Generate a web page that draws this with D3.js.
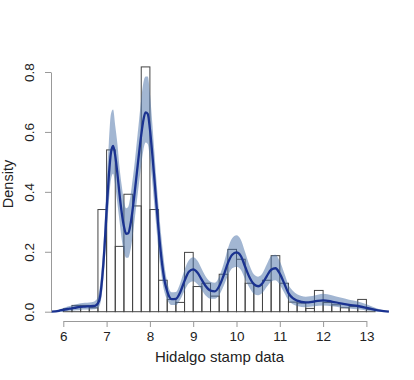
<!DOCTYPE html>
<html>
<head>
<meta charset="utf-8">
<script src="https://cdn.jsdelivr.net/npm/d3@7"></script>
<style>
  body { margin: 0; background: #fff; }
  text { font-family: "Liberation Sans", Arial, sans-serif; fill: #222; }
</style>
</head>
<body>
<svg width="414" height="380"></svg>
<script>
// histogram: left bin edges (width 0.2) and densities
var binStart = [6.0, 6.2, 6.4, 6.6, 6.8, 7.0, 7.2, 7.4, 7.6, 7.8, 8.0, 8.2, 8.4, 8.6, 8.8, 9.0,
  9.2, 9.4, 9.6, 9.8, 10.0, 10.2, 10.4, 10.6, 10.8, 11.0, 11.2, 11.4, 11.6, 11.8, 12.0,
  12.2, 12.4, 12.6, 12.8, 13.0];
var binDensity = [0.010, 0.021, 0.021, 0.013, 0.341, 0.540, 0.218, 0.392, 0.353, 0.817, 0.341,
  0.105, 0.041, 0.031, 0.198, 0.084, 0.095, 0.052, 0.125, 0.208, 0.175, 0.095, 0.087, 0.105,
  0.187, 0.095, 0.032, 0.029, 0.011, 0.071, 0.031, 0.023, 0.013, 0.017, 0.041, 0.008];

// density estimate and its band
var gridX = [5.72, 5.9, 6.0, 6.1, 6.2, 6.3, 6.4, 6.5, 6.6, 6.7, 6.75, 6.8, 6.85, 6.9, 6.95,
  7.0, 7.05, 7.1, 7.15, 7.2, 7.25, 7.3, 7.35, 7.4, 7.45, 7.5, 7.55, 7.6, 7.65, 7.7, 7.75,
  7.8, 7.85, 7.9, 7.95, 8.0, 8.05, 8.1, 8.15, 8.2, 8.25, 8.3, 8.35, 8.4, 8.5, 8.6, 8.7,
  8.8, 8.9, 9.0, 9.1, 9.2, 9.3, 9.4, 9.5, 9.6, 9.7, 9.8, 9.9, 10.0, 10.1, 10.2, 10.3,
  10.4, 10.5, 10.6, 10.7, 10.8, 10.9, 11.0, 11.1, 11.2, 11.3, 11.4, 11.6, 11.8, 12.0,
  12.2, 12.4, 12.6, 12.8, 13.0, 13.2, 13.4, 13.52];
var densMid = [0, 0.003, 0.006, 0.009, 0.011, 0.014, 0.016, 0.017, 0.018, 0.019, 0.021, 0.028,
  0.05, 0.115, 0.21, 0.34, 0.45, 0.53, 0.553, 0.52, 0.46, 0.39, 0.33, 0.285, 0.26, 0.262,
  0.29, 0.34, 0.40, 0.465, 0.53, 0.59, 0.64, 0.665, 0.66, 0.61, 0.535, 0.45, 0.36, 0.275,
  0.20, 0.14, 0.095, 0.068, 0.042, 0.043, 0.065, 0.103, 0.133, 0.141, 0.13, 0.106, 0.083,
  0.07, 0.068, 0.085, 0.12, 0.162, 0.19, 0.198, 0.186, 0.15, 0.115, 0.092, 0.085, 0.095,
  0.119, 0.14, 0.145, 0.127, 0.095, 0.062, 0.045, 0.037, 0.031, 0.034, 0.038, 0.034,
  0.028, 0.023, 0.019, 0.013, 0.006, 0.002, 0];
var densLo = [0, 0, 0.001, 0.002, 0.004, 0.005, 0.006, 0.007, 0.007, 0.008, 0.009, 0.012,
  0.025, 0.07, 0.15, 0.26, 0.36, 0.44, 0.46, 0.42, 0.36, 0.30, 0.24, 0.2, 0.18, 0.18,
  0.205, 0.25, 0.31, 0.37, 0.43, 0.49, 0.54, 0.565, 0.56, 0.51, 0.44, 0.36, 0.28, 0.2,
  0.14, 0.09, 0.058, 0.04, 0.022, 0.022, 0.04, 0.07, 0.095, 0.102, 0.092, 0.072, 0.052,
  0.043, 0.043, 0.056, 0.085, 0.12, 0.145, 0.15, 0.14, 0.108, 0.08, 0.06, 0.055, 0.063,
  0.083, 0.1, 0.105, 0.09, 0.064, 0.038, 0.025, 0.019, 0.015, 0.018, 0.021, 0.018,
  0.014, 0.011, 0.008, 0.004, 0.001, 0, 0];
var densHi = [0, 0.007, 0.012, 0.017, 0.021, 0.025, 0.028, 0.03, 0.031, 0.033, 0.038, 0.05,
  0.09, 0.17, 0.28, 0.43, 0.56, 0.66, 0.675, 0.62, 0.56, 0.48, 0.42, 0.37, 0.345, 0.35,
  0.385, 0.44, 0.50, 0.57, 0.64, 0.71, 0.765, 0.785, 0.785, 0.73, 0.64, 0.54, 0.44, 0.35,
  0.27, 0.2, 0.14, 0.1, 0.065, 0.066, 0.095, 0.14, 0.172, 0.182, 0.17, 0.142, 0.115,
  0.1, 0.097, 0.117, 0.158, 0.21, 0.245, 0.255, 0.24, 0.198, 0.155, 0.125, 0.117, 0.128,
  0.158, 0.185, 0.19, 0.168, 0.13, 0.09, 0.07, 0.058, 0.05, 0.054, 0.06, 0.055,
  0.047, 0.04, 0.034, 0.025, 0.013, 0.004, 0];

var xTicks = [6, 7, 8, 9, 10, 11, 12, 13];
var yTicks = [0, 0.2, 0.4, 0.6, 0.8];

var svg = d3.select("svg");

var x = d3.scaleLinear().domain([6, 13]).range([63.3, 366.4]);
var y = d3.scaleLinear().domain([0, 0.8]).range([311.7, 72]);

var bins = binStart.map(function (b, i) {
  return { x0: b, x1: b + 0.2, d: binDensity[i] };
});

// bars, outline only
svg.append("g")
  .selectAll("rect")
  .data(bins)
  .enter()
  .append("rect")
  .attr("x", function (d) { return x(d.x0); })
  .attr("y", function (d) { return y(d.d); })
  .attr("width", function (d) { return x(d.x1) - x(d.x0); })
  .attr("height", function (d) { return y(0) - y(d.d); })
  .attr("fill", "none")
  .attr("stroke", "#444")
  .attr("stroke-width", 1);

var pts = gridX.map(function (v, i) {
  return { x: v, m: densMid[i], lo: densLo[i], hi: densHi[i] };
});

var area = d3.area()
  .x(function (d) { return x(d.x); })
  .y0(function (d) { return y(d.lo); })
  .y1(function (d) { return y(d.hi); })
  .curve(d3.curveMonotoneX);

svg.append("path")
  .datum(pts)
  .attr("d", area)
  .attr("fill", "rgb(70,110,165)")
  .attr("fill-opacity", 0.5);

var line = d3.line()
  .x(function (d) { return x(d.x); })
  .y(function (d) { return y(d.m); })
  .curve(d3.curveMonotoneX);

svg.append("path")
  .datum(pts)
  .attr("d", line)
  .attr("fill", "none")
  .attr("stroke", "#1a3290")
  .attr("stroke-width", 2.3);

// axes, R style
var xAxis = svg.append("g")
  .attr("transform", "translate(0,321)")
  .call(d3.axisBottom(x).tickValues(xTicks).tickFormat(d3.format("d")).tickSize(6).tickSizeOuter(0));
xAxis.select(".domain").attr("stroke", "#999");
xAxis.selectAll(".tick line").attr("stroke", "#999");
xAxis.selectAll(".tick text")
  .attr("y", 10)
  .style("font-size", "13.5px")
  .attr("fill", "#222");

var yAxis = svg.append("g")
  .attr("transform", "translate(51,0)")
  .call(d3.axisLeft(y).tickValues(yTicks).tickFormat(d3.format(".1f")).tickSize(6).tickSizeOuter(0));
yAxis.select(".domain").attr("stroke", "#999");
yAxis.selectAll(".tick line").attr("stroke", "#999");
yAxis.selectAll(".tick text")
  .attr("x", 0)
  .attr("dy", 0)
  .attr("text-anchor", "middle")
  .attr("transform", "translate(-17,0) rotate(-90)")
  .style("font-size", "13.5px")
  .attr("fill", "#222");

svg.append("text")
  .attr("x", 219.5)
  .attr("y", 362)
  .attr("text-anchor", "middle")
  .style("font-size", "15px")
  .text("Hidalgo stamp data");

svg.append("text")
  .attr("transform", "translate(12.5,184) rotate(-90)")
  .attr("text-anchor", "middle")
  .style("font-size", "14.5px")
  .text("Density");
</script>
</body>
</html>
